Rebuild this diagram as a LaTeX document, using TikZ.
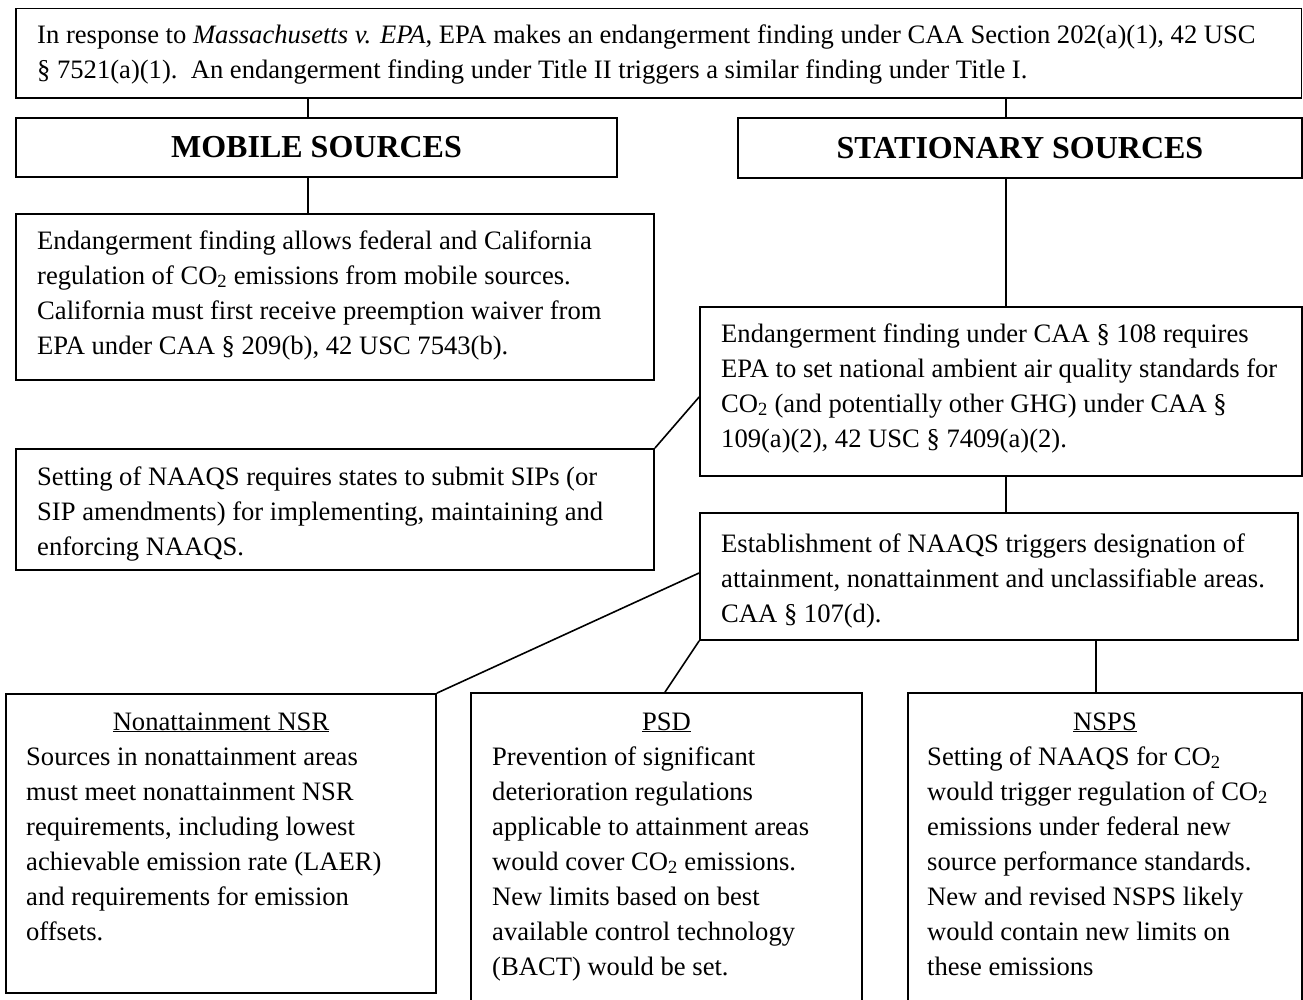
\documentclass[tikz,border=0pt]{standalone}
\usepackage{fontspec}
\setmainfont{Liberation Serif}
\begin{document}
\begin{tikzpicture}[x=1pt,y=-1pt,
  box/.style={draw, line width=1.8pt, rectangle, inner sep=0pt},
  conn/.style={line width=1.6pt},
  body/.style={anchor=north west, inner sep=0pt, align=flush left, text width=#1,
    font=\fontsize{26.6}{35}\selectfont},
  body/.default=620,
  head/.style={inner sep=0pt, font=\fontsize{32}{38}\selectfont\bfseries},
  sub/.style={anchor=base, inner sep=0pt, font=\fontsize{26.6}{35}\selectfont}]
\fill[white] (0,0) rectangle (1303,1000);
\useasboundingbox (0,0) rectangle (1303,1000);
\clip (0,0) rectangle (1303,1000);

% boxes
\node[box, minimum width=1285.5, minimum height=89.5] (top) at (658.75,53.25) {};
\node[box, minimum width=601, minimum height=59] (mob) at (316.5,147.5) {};
\node[box, minimum width=564, minimum height=60] (stat) at (1020,148) {};
\node[box, minimum width=638, minimum height=166] (mobtxt) at (335,297) {};
\node[box, minimum width=638, minimum height=121] (sip) at (335,509.5) {};
\node[box, minimum width=602, minimum height=169] (e108) at (1001,391.5) {};
\node[box, minimum width=598, minimum height=127] (est) at (999,576.5) {};
\node[box, minimum width=430, minimum height=299] (nonatt) at (221,843.5) {};
\node[box, minimum width=391, minimum height=313] (psd) at (666.5,849.5) {};
\node[box, minimum width=394, minimum height=313] (nsps) at (1105,849.5) {};

% headings
\node[head] (mobh) at (mob.center) {MOBILE SOURCES};
\node[head] (stath) at (stat.center) {STATIONARY SOURCES};

% texts
\node[body=1265] (toptext) at (37,18.5) {\strut In response to \textit{Massachusetts v. EPA}, EPA makes an endangerment finding under CAA Section 202(a)(1), 42 USC\\
§ 7521(a)(1).\ \ An endangerment finding under Title II triggers a similar finding under Title I.};

\node[body] (mobt) at (37,224.5) {\strut Endangerment finding allows federal and California\\
regulation of CO\textsubscript{2} emissions from mobile sources.\\
California must first receive preemption waiver from\\
EPA under CAA § 209(b), 42 USC 7543(b).};

\node[body] (sipt) at (37,460.5) {\strut Setting of NAAQS requires states to submit SIPs (or\\
SIP amendments) for implementing, maintaining and\\
enforcing NAAQS.};

\node[body=580] (e108t) at (721,317.5) {\strut Endangerment finding under CAA § 108 requires\\
EPA to set national ambient air quality standards for\\
CO\textsubscript{2} (and potentially other GHG) under CAA §\\
109(a)(2), 42 USC § 7409(a)(2).};

\node[body=575] (estt) at (721,527.5) {\strut Establishment of NAAQS triggers designation of\\
attainment, nonattainment and unclassifiable areas.\\
CAA § 107(d).};

\node[sub] (nonh) at (221,730) {\underline{Nonattainment NSR}};
\node[body=405] (nont) at (26,740.5) {\strut Sources in nonattainment areas\\
must meet nonattainment NSR\\
requirements, including lowest\\
achievable emission rate (LAER)\\
and requirements for emission\\
offsets.};

\node[sub] (psdh) at (666.5,730) {\underline{PSD}};
\node[body=365] (psdt) at (492,740.5) {\strut Prevention of significant\\
deterioration regulations\\
applicable to attainment areas\\
would cover CO\textsubscript{2} emissions.\\
New limits based on best\\
available control technology\\
(BACT) would be set.};

\node[sub] (nspsh) at (1105,730) {\underline{NSPS}};
\node[body=370] (nspst) at (927,740.5) {\strut Setting of NAAQS for CO\textsubscript{2}\\
would trigger regulation of CO\textsubscript{2}\\
emissions under federal new\\
source performance standards.\\
New and revised NSPS likely\\
would contain new limits on\\
these emissions};

% helper coordinates
\coordinate (xa) at (308,0);
\coordinate (xb) at (1006,0);
\coordinate (xc) at (1096,0);
\coordinate (xd) at (665,0);
\coordinate (ya) at (0,397);
\coordinate (yb) at (0,573);

% connectors
\draw[conn] (top.south -| xa) -- (mob.north -| xa);
\draw[conn] (mob.south -| xa) -- (mobtxt.north -| xa);
\draw[conn] (top.south -| xb) -- (stat.north -| xb);
\draw[conn] (stat.south -| xb) -- (e108.north -| xb);
\draw[conn] (sip.north east) -- (e108.west |- ya);
\draw[conn] (e108.south -| xb) -- (est.north -| xb);
\draw[conn] (est.west |- yb) -- (nonatt.north east);
\draw[conn] (est.south west) -- (psd.north -| xd);
\draw[conn] (est.south -| xc) -- (nsps.north -| xc);
\end{tikzpicture}
\end{document}
